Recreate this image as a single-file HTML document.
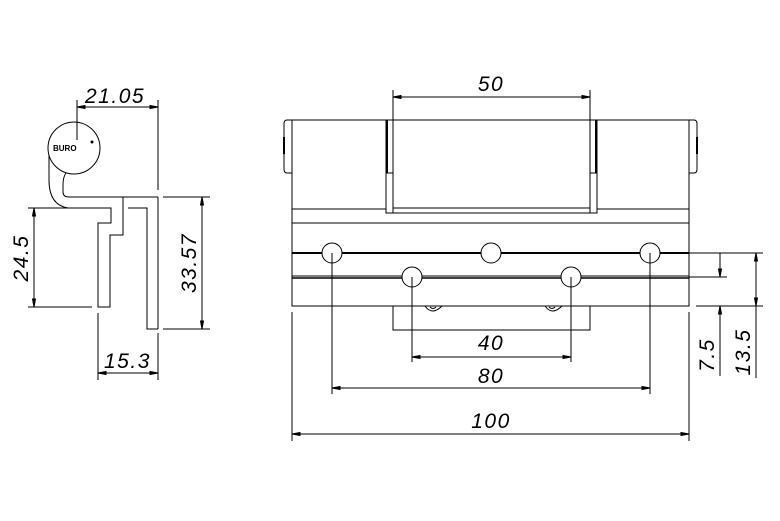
<!DOCTYPE html>
<html><head><meta charset="utf-8"><style>
html,body{margin:0;padding:0;background:#fff;}
svg{display:block;}
text{font-family:"Liberation Sans",sans-serif;font-style:italic;font-size:21px;fill:#000;stroke:none;letter-spacing:1.5px;}
</style></head><body>
<svg width="780" height="521" viewBox="0 0 780 521" xmlns="http://www.w3.org/2000/svg" fill="none" stroke="#000" stroke-width="1">
<!-- LEFT PROFILE -->
<circle cx="74" cy="148" r="26"/>
<text x="53" y="151" style="font-size:8px;font-style:normal;font-weight:bold;letter-spacing:0">BURO</text>
<circle cx="92" cy="142" r="1.5" fill="#000" stroke="none"/>
<path d="M49,155 L49,180 Q49,205 68,208 L111,208 L111,223 L98,223 L98,307 L110,307 L110,235 L123,235 L123,197"/>
<path d="M66,173 Q63,177 63,185 L63,192 Q63,197 69,197 L158,197"/>
<path d="M128,208 L147,208 L147,329 L158,329"/>
<line x1="158" y1="100" x2="158" y2="190"/>
<line x1="158" y1="197" x2="158" y2="329"/>
<!-- 21.05 -->
<line x1="77" y1="100" x2="77" y2="140"/>
<line x1="77" y1="107" x2="158" y2="107"/>
<path d="M77,107 l8,-1.5 v3z M158,107 l-8,-1.5 v3z" fill="#000"/>
<text x="85" y="103">21.05</text>
<!-- 24.5 -->
<line x1="28" y1="208" x2="68" y2="208"/>
<line x1="28" y1="307" x2="92" y2="307"/>
<line x1="34" y1="208" x2="34" y2="307"/>
<path d="M34,208 l-1.5,8 h3z M34,307 l-1.5,-8 h3z" fill="#000"/>
<text transform="translate(28,258) rotate(-90)" text-anchor="middle">24.5</text>
<!-- 33.57 -->
<line x1="163" y1="197" x2="210" y2="197"/>
<line x1="163" y1="329" x2="210" y2="329"/>
<line x1="202" y1="197" x2="202" y2="329"/>
<path d="M202,197 l-1.5,8 h3z M202,329 l-1.5,-8 h3z" fill="#000"/>
<text transform="translate(196,263) rotate(-90)" text-anchor="middle">33.57</text>
<!-- 15.3 -->
<line x1="98" y1="313" x2="98" y2="380"/>
<line x1="158" y1="333" x2="158" y2="380"/>
<line x1="98" y1="373" x2="158" y2="373"/>
<path d="M98,373 l8,-1.5 v3z M158,373 l-8,-1.5 v3z" fill="#000"/>
<text x="104" y="368">15.3</text>

<!-- MAIN VIEW -->
<rect x="292" y="120" width="397" height="186"/>
<path d="M292,120 L287,120 Q284,120 284,124 L284,169 Q284,173 287,173 L292,173"/>
<path d="M689,120 L694,120 Q697,120 697,124 L697,169 Q697,173 694,173 L689,173"/>
<rect x="283" y="137" width="2" height="17" fill="#000" stroke="none"/>
<rect x="696" y="137" width="2" height="17" fill="#000" stroke="none"/>
<line x1="292" y1="209" x2="386" y2="209"/>
<line x1="597" y1="209" x2="689" y2="209"/>
<line x1="292" y1="223" x2="689" y2="223"/>
<rect x="386" y="120" width="211" height="93" fill="#fff"/>
<line x1="393" y1="120" x2="393" y2="213"/>
<line x1="590" y1="120" x2="590" y2="213"/>
<line x1="393" y1="208" x2="590" y2="208"/>
<line x1="386" y1="173" x2="393" y2="173"/>
<line x1="590" y1="173" x2="597" y2="173"/>
<rect x="386" y="120" width="2" height="53" fill="#000" stroke="none"/>
<rect x="595" y="120" width="2" height="53" fill="#000" stroke="none"/>
<!-- rails -->
<line x1="292" y1="253" x2="689" y2="253" stroke-width="2"/>
<line x1="292" y1="276" x2="689" y2="276"/>
<line x1="292" y1="278" x2="689" y2="278" stroke-width="1.5"/>
<g fill="#fff">
<circle cx="332" cy="253" r="10"/><circle cx="491" cy="253" r="10"/><circle cx="650" cy="253" r="10"/>
<circle cx="412" cy="277" r="10"/><circle cx="571" cy="277" r="10"/>
</g>
<!-- lower leaf -->
<rect x="393" y="306" width="197" height="24"/>
<path d="M425,306 Q432,316 442,306"/>
<path d="M430,307 Q433,310 436,307"/>
<path d="M545,306 Q552,316 562,306"/>
<path d="M549,307 Q552,310 555,307"/>
<!-- 50 -->
<line x1="393" y1="90" x2="393" y2="120"/>
<line x1="590" y1="90" x2="590" y2="120"/>
<line x1="393" y1="97" x2="590" y2="97"/>
<path d="M393,97 l8,-1.5 v3z M590,97 l-8,-1.5 v3z" fill="#000"/>
<text x="491" y="91" text-anchor="middle">50</text>
<!-- extension lines -->
<line x1="332" y1="253" x2="332" y2="394"/>
<line x1="650" y1="253" x2="650" y2="394"/>
<line x1="412" y1="277" x2="412" y2="362"/>
<line x1="571" y1="277" x2="571" y2="362"/>
<line x1="292" y1="312" x2="292" y2="441"/>
<line x1="689" y1="312" x2="689" y2="441"/>
<!-- 40 -->
<line x1="412" y1="357" x2="571" y2="357"/>
<path d="M412,357 l8,-1.5 v3z M571,357 l-8,-1.5 v3z" fill="#000"/>
<text x="491" y="350" text-anchor="middle">40</text>
<!-- 80 -->
<line x1="332" y1="388" x2="650" y2="388"/>
<path d="M332,388 l8,-1.5 v3z M650,388 l-8,-1.5 v3z" fill="#000"/>
<text x="491" y="383" text-anchor="middle">80</text>
<!-- 100 -->
<line x1="292" y1="434" x2="689" y2="434"/>
<path d="M292,434 l8,-1.5 v3z M689,434 l-8,-1.5 v3z" fill="#000"/>
<text x="491" y="428" text-anchor="middle">100</text>
<!-- right dims -->
<line x1="689" y1="253" x2="763" y2="253"/>
<line x1="689" y1="277" x2="727" y2="277"/>
<line x1="696" y1="306" x2="763" y2="306"/>
<line x1="720" y1="253" x2="720" y2="277"/>
<line x1="720" y1="306" x2="720" y2="376"/>
<path d="M720,277 l-1.5,-8 h3z M720,306 l-1.5,8 h3z" fill="#000"/>
<line x1="756" y1="253" x2="756" y2="378"/>
<path d="M756,253 l-1.5,8 h3z M756,306 l-1.5,-8 h3z" fill="#000"/>
<text transform="translate(714,355) rotate(-90)" text-anchor="middle">7.5</text>
<text transform="translate(750,352) rotate(-90)" text-anchor="middle">13.5</text>
</svg>
</body></html>
